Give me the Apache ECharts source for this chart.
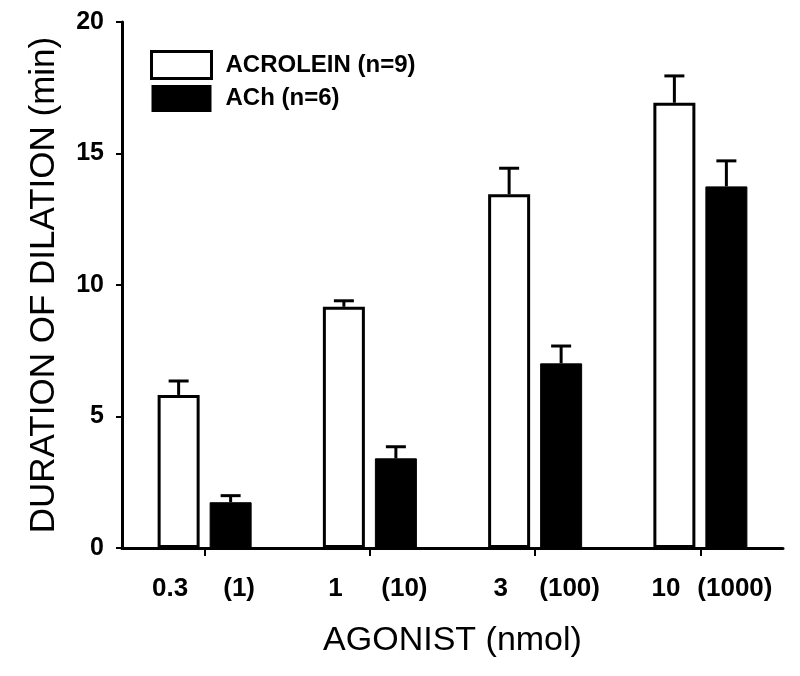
<!DOCTYPE html>
<html>
<head>
<meta charset="utf-8">
<script src="https://cdn.jsdelivr.net/npm/echarts@6/dist/echarts.min.js"></script>
<style>html,body{margin:0;padding:0;background:#fff;}#c{width:800px;height:676px;}</style>
</head>
<body>
<div id="c"></div>
<script>
// ---- data ----
var groups = ['0.3 / (1)', '1 / (10)', '3 / (100)', '10 / (1000)'];
var tickLabels = ['0.3', '(1)', '1', '(10)', '3', '(100)', '10', '(1000)'];
var yTicks = [0, 5, 10, 15, 20];
var acroleinMean = [5.82, 9.17, 13.45, 16.93];
var acroleinSE = [0.53, 0.23, 0.99, 1.02];
var achMean = [1.74, 3.41, 7.02, 13.75];
var achSE = [0.25, 0.44, 0.66, 0.97];

// ---- styling ----
var FONT = '"Liberation Sans", Arial, sans-serif';
var BAR_W = 42, GAP = 10;
var OFF = (BAR_W + GAP) / 2;

function errData(mean, se) {
  return mean.map(function (m, i) { return [i, m, se[i]]; });
}
function errRender(offset) {
  return function (params, api) {
    var i = api.value(0), m = api.value(1), e = api.value(2);
    var b = api.coord([i, m]);
    var t = api.coord([i, m + e]);
    var x = b[0] + offset;
    return {
      type: 'group',
      children: [
        { type: 'line', shape: { x1: x, y1: b[1], x2: x, y2: t[1] }, style: { stroke: '#000', lineWidth: 3 } },
        { type: 'line', shape: { x1: x - 10, y1: t[1], x2: x + 10, y2: t[1] }, style: { stroke: '#000', lineWidth: 3 } }
      ]
    };
  };
}

var chart = echarts.init(document.getElementById('c'), null, { renderer: 'canvas' });
chart.setOption({
  animation: false,
  backgroundColor: '#fff',
  grid: { left: 122, right: 17, top: 22, bottom: 128 },
  legend: {
    orient: 'vertical',
    left: 150, top: 50,
    padding: 0,
    itemWidth: 60, itemHeight: 27, itemGap: 5,
    icon: 'rect',
    data: [
      { name: 'ACROLEIN (n=9)', itemStyle: { color: '#fff', borderColor: '#000', borderWidth: 3 } },
      { name: 'ACh (n=6)', itemStyle: { color: '#000', borderColor: '#000', borderWidth: 0 } }
    ],
    textStyle: { fontFamily: FONT, fontWeight: 'bold', fontSize: 24, color: '#000', padding: [0, 0, 0, 9] }
  },
  xAxis: {
    type: 'category',
    data: groups,
    boundaryGap: true,
    axisLine: { show: true, lineStyle: { color: '#000', width: 3 } },
    axisTick: { show: true, alignWithLabel: true, length: 8, lineStyle: { color: '#000', width: 2 } },
    splitLine: { show: false },
    axisLabel: {
      show: true, interval: 0, margin: 28,
      formatter: function (v, idx) {
        return '{a|' + tickLabels[2 * idx] + '}{b|' + tickLabels[2 * idx + 1] + '}';
      },
      rich: {
        a: { width: 69, align: 'center', fontFamily: FONT, fontWeight: 'bold', fontSize: 26, color: '#000' },
        b: { width: 69, align: 'center', fontFamily: FONT, fontWeight: 'bold', fontSize: 26, color: '#000' }
      }
    },
    name: 'AGONIST (nmol)',
    nameLocation: 'middle',
    nameGap: 76,
    nameTextStyle: { fontFamily: FONT, fontSize: 34, color: '#000' }
  },
  yAxis: {
    type: 'value',
    min: 0, max: 20, interval: 5,
    axisLine: { show: true, lineStyle: { color: '#000', width: 3 } },
    axisTick: { show: true, length: 6, lineStyle: { color: '#000', width: 2 } },
    splitLine: { show: false },
    axisLabel: {
      margin: 18, fontFamily: FONT, fontWeight: 'bold', fontSize: 25, color: '#000',
      formatter: function (v) { return yTicks.indexOf(v) >= 0 ? String(v) : ''; }
    },
    name: 'DURATION OF DILATION (min)',
    nameLocation: 'middle',
    nameGap: 60,
    nameTextStyle: { fontFamily: FONT, fontSize: 35, color: '#000' }
  },
  series: [
    {
      name: 'ACROLEIN (n=9)', type: 'bar',
      data: acroleinMean, barWidth: BAR_W, barGap: (GAP / BAR_W * 100) + '%',
      itemStyle: { color: '#fff', borderColor: '#000', borderWidth: 3 }
    },
    {
      name: 'ACh (n=6)', type: 'bar',
      data: achMean, barWidth: BAR_W,
      itemStyle: { color: '#000', borderColor: '#000', borderWidth: 1 }
    },
    {
      name: 'errA', type: 'custom', z: 5,
      renderItem: errRender(-OFF), data: errData(acroleinMean, acroleinSE)
    },
    {
      name: 'errB', type: 'custom', z: 5,
      renderItem: errRender(OFF), data: errData(achMean, achSE)
    }
  ]
});
</script>
</body>
</html>
